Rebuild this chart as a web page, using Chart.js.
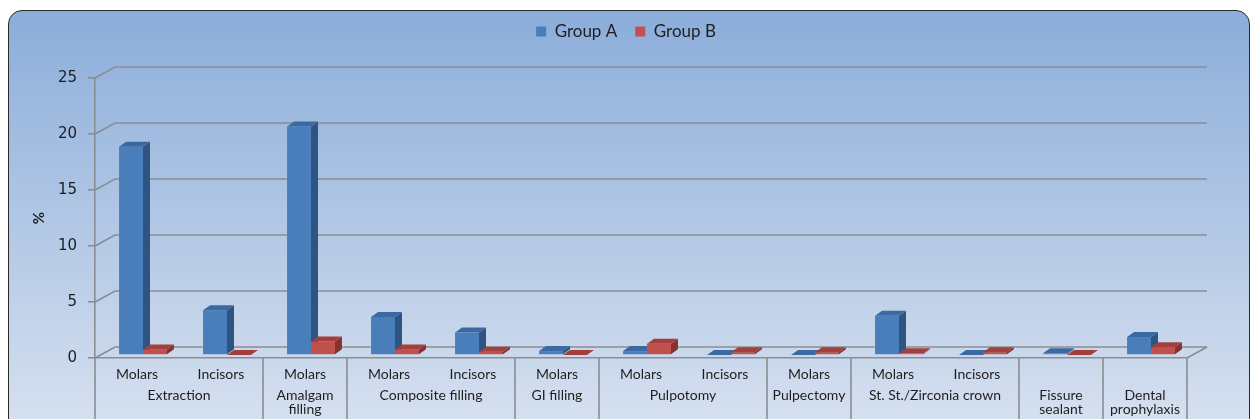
<!DOCTYPE html>
<html>
<head>
<meta charset="utf-8">
<script src="https://cdn.jsdelivr.net/npm/chart.js@4"></script>
<style>
  html, body { margin: 0; padding: 0; background: #fff; }
  #wrap { position: relative; width: 1252px; height: 419px; overflow: hidden; }
  #panel {
    position: absolute; left: 8px; top: 10px; width: 1240px; height: 440px;
    border: 1.5px solid #2a2a2a; border-radius: 14px;
    background: linear-gradient(to bottom, #8badda 0%, #d7e1f0 95%);
  }
  canvas { position: absolute; left: 0; top: 0; }
</style>
</head>
<body>
<div id="wrap">
  <div id="panel"></div>
  <canvas id="chart" width="1252" height="419"></canvas>
</div>
<script>
// treatment types, one slot per bar pair
const subLabels = ['Molars', 'Incisors', 'Molars', 'Molars', 'Incisors', 'Molars', 'Molars', 'Incisors',
                   'Molars', 'Molars', 'Incisors', '', ''];
const groupLabels = ['Extraction', ['Amalgam', 'filling'], 'Composite filling', 'GI filling', 'Pulpotomy',
                     'Pulpectomy', 'St. St./Zirconia crown', ['Fissure', 'sealant'], ['Dental', 'prophylaxis']];
const groupSpans = [2, 1, 2, 1, 2, 1, 2, 1, 1];

// % values
const groupA = [18.6, 4.0, 20.4, 3.4, 2.0, 0.35, 0.35, 0, 0, 3.5, 0, 0.15, 1.6];
const groupB = [0.5, 0, 1.2, 0.5, 0.3, 0, 1.0, 0.25, 0.25, 0.15, 0.25, 0, 0.7];
const yTicks = [0, 5, 10, 15, 20, 25];

// group centers / boundaries on the slot axis
const groupBounds = [0];
groupSpans.forEach(s => groupBounds.push(groupBounds[groupBounds.length - 1] + s));
const groupCenters = groupSpans.map((s, i) => groupBounds[i] + s / 2);

const gridColor = '#8a8d92';
const faces = [
    { front: '#4a7ebb', side: '#2d5482', top: '#3b69a2' },
    { front: '#c0504d', side: '#87302e', top: '#a33f3c' }
];
const wall = { x: 20, y: -11 };     // depth of the back wall
const shift = { x: 6, y: -3 };      // bars sit a bit behind the front edge
const bar = { x: 7, y: -5 };        // depth of one bar

const threeD = {
    id: 'threeD',
    beforeUpdate(chart) {
        // extra room under the legend
        if (chart.legend && !chart.legend._patched) {
            const fit = chart.legend.fit;
            chart.legend.fit = function () { fit.call(this); this.height += 28; };
            chart.legend._patched = true;
        }
    },
    beforeDatasetsDraw(chart) {
        const { ctx, chartArea: a, scales: { y, x2 } } = chart;
        ctx.save();
        ctx.strokeStyle = gridColor;
        ctx.lineWidth = 1.6;

        // side wall + back wall grid
        yTicks.forEach(v => {
            const py = y.getPixelForValue(v);
            ctx.beginPath();
            ctx.moveTo(a.left, py);
            ctx.lineTo(a.left + wall.x, py + wall.y);
            ctx.lineTo(a.right + wall.x, py + wall.y);
            ctx.stroke();
        });
        ctx.beginPath();
        ctx.moveTo(a.right, a.bottom);
        ctx.lineTo(a.right + wall.x, a.bottom + wall.y);
        ctx.stroke();

        // separators between treatment groups
        groupBounds.forEach(b => {
            const px = x2.getPixelForValue(b);
            ctx.beginPath();
            ctx.moveTo(px, a.bottom);
            ctx.lineTo(px, chart.height);
            ctx.stroke();
        });

        // bars, drawn pair by pair so the red front hides the blue side
        const metas = [chart.getDatasetMeta(0), chart.getDatasetMeta(1)];
        for (let i = 0; i < subLabels.length; i++) {
            metas.forEach((m, d) => {
                const el = m.data[i];
                const p = el.getProps(['x', 'y', 'base', 'width'], true);
                const l = p.x - p.width / 2 + shift.x;
                const r = p.x + p.width / 2 + shift.x;
                const t = p.y + shift.y;
                const b = p.base + shift.y;
                const f = faces[d];

                ctx.fillStyle = f.front;
                ctx.fillRect(l, t, r - l, b - t);

                ctx.fillStyle = f.side;
                ctx.beginPath();
                ctx.moveTo(r, t);
                ctx.lineTo(r + bar.x, t + bar.y);
                ctx.lineTo(r + bar.x, b + bar.y);
                ctx.lineTo(r, b);
                ctx.closePath();
                ctx.fill();

                ctx.fillStyle = f.top;
                ctx.beginPath();
                ctx.moveTo(l, t);
                ctx.lineTo(l + bar.x, t + bar.y);
                ctx.lineTo(r + bar.x, t + bar.y);
                ctx.lineTo(r, t);
                ctx.closePath();
                ctx.fill();
            });
        }
        ctx.restore();
        return false;
    }
};

new Chart(document.getElementById('chart'), {
    type: 'bar',
    data: {
        labels: subLabels,
        datasets: [
            { label: 'Group A', data: groupA, backgroundColor: faces[0].front, borderWidth: 0 },
            { label: 'Group B', data: groupB, backgroundColor: faces[1].front, borderWidth: 0 }
        ]
    },
    options: {
        responsive: false,
        animation: false,
        layout: { padding: { top: 5, right: 0, bottom: 0, left: 0 } },
        datasets: { bar: { categoryPercentage: 0.57, barPercentage: 1.0 } },
        scales: {
            y: {
                min: 0,
                max: 25,
                afterBuildTicks: s => { s.ticks = yTicks.map(v => ({ value: v })); },
                afterFit: s => { s.width = 95; },
                grid: { drawOnChartArea: false, drawTicks: true, tickLength: 7, color: gridColor, lineWidth: 1.6 },
                border: { display: true, color: gridColor, width: 1.6 },
                ticks: { padding: 11, color: '#1e1e1e', font: { family: 'DejaVu Sans', size: 15 } },
                title: { display: true, text: '%', color: '#1e1e1e', padding: { top: 30, bottom: 0 },
                         font: { family: 'Lato', size: 15, weight: 'bold' } }
            },
            // empty strip on the right, keeps the legend centred on the panel
            yRight: {
                type: 'linear',
                position: 'right',
                afterFit: s => { s.width = 65; },
                grid: { display: false },
                border: { display: false },
                ticks: { display: false }
            },
            x: {
                position: 'bottom',
                afterFit: s => { s.height = 22; },
                grid: { display: false, drawTicks: false },
                border: { display: true, color: gridColor, width: 1.6 },
                ticks: { padding: 8, autoSkip: false, maxRotation: 0, color: '#1e1e1e',
                         font: { family: 'Lato', size: 14 } }
            },
            x2: {
                type: 'linear',
                position: 'bottom',
                offset: false,
                min: 0,
                max: groupBounds[groupBounds.length - 1],
                afterBuildTicks: s => { s.ticks = groupCenters.map(v => ({ value: v })); },
                afterFit: s => { s.height = 39; },
                grid: { display: false, drawTicks: false, offset: false },
                border: { display: false },
                ticks: { padding: 8, autoSkip: false, maxRotation: 0, color: '#1e1e1e',
                         font: { family: 'Lato', size: 14, lineHeight: 1.0 },
                         callback: (v, i) => groupLabels[i] }
            }
        },
        plugins: {
            legend: {
                position: 'top',
                labels: { boxWidth: 10, boxHeight: 10, padding: 18, color: '#1e1e1e',
                          font: { family: 'Lato', size: 17 } }
            },
            tooltip: { enabled: false }
        }
    },
    plugins: [threeD]
});
</script>
</body>
</html>
